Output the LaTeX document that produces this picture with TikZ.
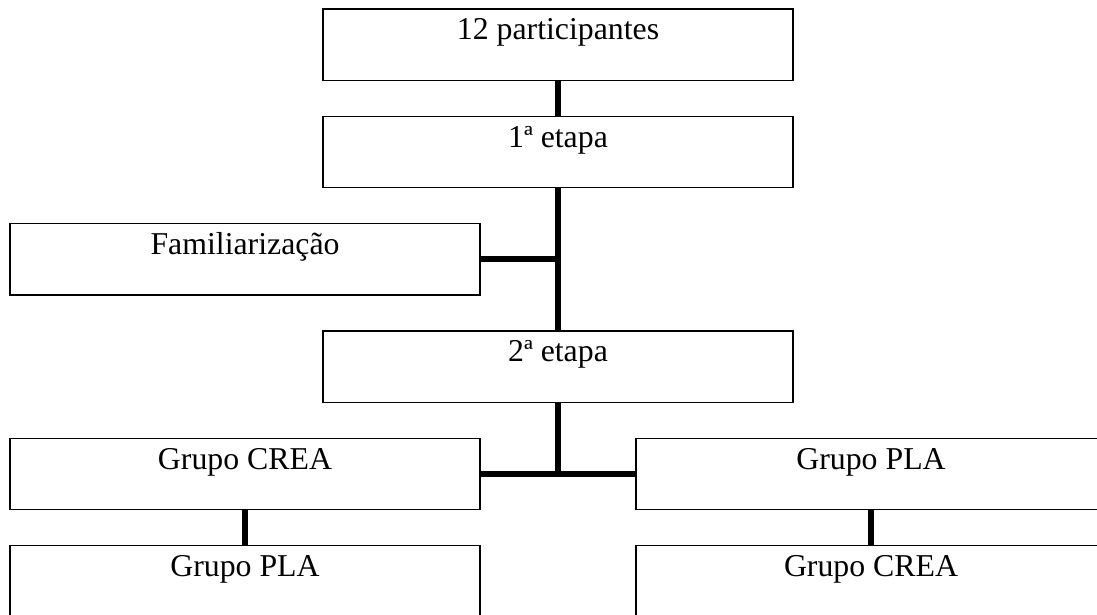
\documentclass[tikz,border=0pt]{standalone}
\usepackage{fontspec}
\setmainfont{Liberation Serif}
\tikzset{
  caixa/.style={draw, line width=1.3pt, fill=white, anchor=north, outer sep=0pt,
    minimum width=470pt, inner sep=0pt, text height=31pt, text depth=40.5pt,
    font=\fontsize{31.8}{38}\selectfont},
  elo/.style={line width=6pt}
}
\begin{document}
\begin{tikzpicture}[x=1pt,y=-1pt]
\useasboundingbox (0,0) rectangle (1097,615);
\node[caixa] (part) at (558,9) {12 participantes};
\node[caixa] (etapa1) at (558,116.3) {1ª etapa};
\node[caixa] (famil) at (245,223.6) {Familiarização};
\node[caixa] (etapa2) at (558,330.9) {2ª etapa};
\node[caixa] (creaA) at (245,438.2) {Grupo CREA};
\node[caixa] (plaA) at (871,438.2) {Grupo PLA};
\node[caixa] (plaB) at (245,545.5) {Grupo PLA};
\node[caixa] (creaB) at (871,545.5) {Grupo CREA};
\draw[elo] (part.south) -- (etapa1.north);
\draw[elo] (etapa1.south) -- (etapa2.north);
\draw[elo] (famil.east) -- (famil.east -| etapa1.south);
\draw[elo] (etapa2.south) -- (etapa2.south |- creaA.east);
\draw[elo] (creaA.east) -- (plaA.west);
\draw[elo] (creaA.south) -- (plaB.north);
\draw[elo] (plaA.south) -- (creaB.north);
\end{tikzpicture}
\end{document}
